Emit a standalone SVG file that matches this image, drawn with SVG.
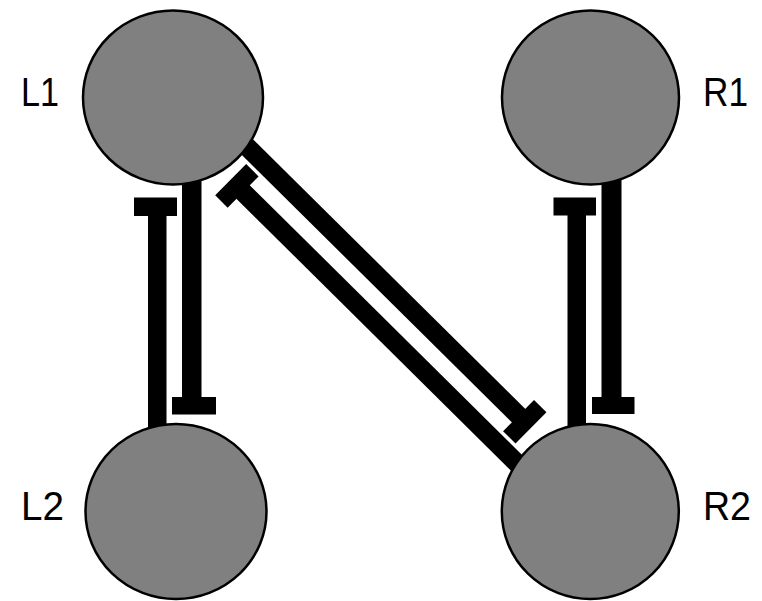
<svg xmlns="http://www.w3.org/2000/svg" width="762" height="601" viewBox="0 0 762 601">
<style>
.node{fill:#808080;stroke:#000;stroke-width:2.5}
.lbl{font-family:"Liberation Sans",Arial,sans-serif;font-size:40px;fill:#000}
.bar{fill:#000}
</style>
<rect width="762" height="601" fill="#fff"/>
<g id="connectors">
  <!-- L2 -| L1 -->
  <g id="e-L2-L1"><rect class="bar" x="148" y="205" width="18.5" height="240"/><rect class="bar" x="134" y="197.5" width="43" height="18.5"/></g>
  <!-- L1 -| L2 -->
  <g id="e-L1-L2"><rect class="bar" x="182" y="150" width="19.5" height="255"/><rect class="bar" x="172" y="397" width="44" height="17.5"/></g>
  <!-- R2 -| R1 -->
  <g id="e-R2-R1"><rect class="bar" x="567.5" y="205" width="18.5" height="240"/><rect class="bar" x="553.5" y="197.5" width="42.5" height="18"/></g>
  <!-- R1 -| R2 -->
  <g id="e-R1-R2"><rect class="bar" x="601.5" y="150" width="20" height="255"/><rect class="bar" x="592" y="397" width="42.5" height="17"/></g>
  <!-- L1 -| R2 -->
  <g id="e-L1-R2" transform="translate(185.3,85.6) rotate(44.72)"><rect class="bar" x="0" y="-9.5" width="478" height="19"/><rect class="bar" x="469" y="-22" width="17.5" height="44"/></g>
  <!-- R2 -| L1 -->
  <g id="e-R2-L1" transform="translate(160.7,110.4) rotate(44.72)"><rect class="bar" x="107" y="-9.5" width="453" height="19"/><rect class="bar" x="98.5" y="-22" width="17.5" height="44"/></g>
</g>
<g id="L1"><ellipse class="node" cx="173" cy="97.5" rx="90" ry="87"/><text class="lbl" x="21" y="106" textLength="38" lengthAdjust="spacingAndGlyphs">L1</text></g>
<g id="R1"><ellipse class="node" cx="590.5" cy="97.5" rx="88.5" ry="87"/><text class="lbl" x="703" y="106" textLength="45" lengthAdjust="spacingAndGlyphs">R1</text></g>
<g id="L2"><ellipse class="node" cx="176" cy="511.5" rx="90.5" ry="87.5"/><text class="lbl" x="21" y="520" textLength="43" lengthAdjust="spacingAndGlyphs">L2</text></g>
<g id="R2"><ellipse class="node" cx="590.3" cy="511.5" rx="88.5" ry="87.5"/><text class="lbl" x="703" y="520" textLength="48" lengthAdjust="spacingAndGlyphs">R2</text></g>
</svg>
